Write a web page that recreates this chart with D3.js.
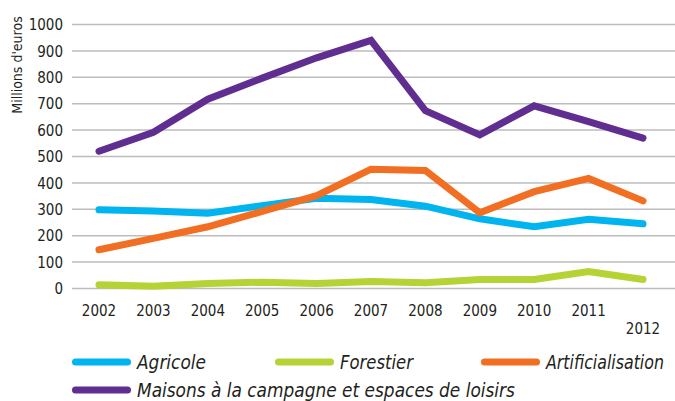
<!DOCTYPE html>
<html>
<head>
<meta charset="utf-8">
<script src="https://cdn.jsdelivr.net/npm/d3@7"></script>
<style>
  body { margin: 0; background: #fff; }
  svg text { font-family: "Liberation Sans Narrow", "DejaVu Sans Condensed", sans-serif; fill: #231f20; }
</style>
</head>
<body>
<svg id="chart" width="675" height="401"></svg>
<script>
// data
var years = ['2002','2003','2004','2005','2006','2007','2008','2009','2010','2011','2012'];
var agricole = [296, 292, 283, 312, 340, 335, 310, 262, 232, 260, 243];
var forestier = [12, 7, 17, 22, 17, 25, 20, 32, 32, 62, 32];
var artificialisation = [145, 188, 232, 290, 350, 450, 445, 285, 365, 415, 330];
var maisons = [518, 590, 715, 795, 872, 938, 672, 580, 690, 630, 568];
var yTicks = [0, 100, 200, 300, 400, 500, 600, 700, 800, 900, 1000];

var series = [
  { name: 'Agricole', values: agricole, color: '#00b5ef' },
  { name: 'Forestier', values: forestier, color: '#b5d334' },
  { name: 'Artificialisation', values: artificialisation, color: '#f26e22' },
  { name: 'Maisons à la campagne et espaces de loisirs', values: maisons, color: '#5f2e90' }
];

var svg = d3.select('#chart');

var x = d3.scalePoint().domain(years).range([99, 643]);
var y = d3.scaleLinear().domain([0, 1000]).range([288, 24]);

// gridlines
var yAxis = d3.axisLeft(y).tickValues(yTicks).tickSize(-603).tickPadding(9).tickFormat(d3.format('d'));
var gy = svg.append('g').attr('transform', 'translate(72,0)').call(yAxis);
gy.select('.domain').remove();
gy.selectAll('.tick line').attr('stroke', '#bcbcbc').attr('stroke-width', 1.5);
gy.selectAll('.tick text').attr('font-size', 15).attr('fill', '#231f20').attr('dy', '0.38em');

// x labels (last one dropped a line, as in the original)
svg.append('g').selectAll('text').data(years).enter().append('text')
  .attr('x', function (d) { return x(d); })
  .attr('y', function (d, i) { return i == years.length - 1 ? 334 : 316; })
  .attr('text-anchor', 'middle')
  .attr('font-size', 15)
  .text(function (d) { return d; });

svg.append('text')
  .attr('transform', 'translate(22,65) rotate(-90)')
  .attr('text-anchor', 'middle')
  .attr('font-size', 14)
  .text("Millions d'euros");

var line = d3.line()
  .x(function (d, i) { return x(years[i]); })
  .y(function (d) { return y(d); });

svg.append('g').selectAll('path').data(series).enter().append('path')
  .attr('d', function (s) { return line(s.values); })
  .attr('fill', 'none')
  .attr('stroke', function (s) { return s.color; })
  .attr('stroke-width', 7)
  .attr('stroke-linecap', 'round')
  .attr('stroke-linejoin', 'miter');

// legend
var legendPos = [[72, 362], [275, 362], [481, 362], [72, 390]];
var legendWidth = [69, 73, 118, 378];
var lg = svg.append('g').selectAll('g').data(series).enter().append('g')
  .attr('transform', function (s, i) { return 'translate(' + legendPos[i][0] + ',' + legendPos[i][1] + ')'; });
lg.append('line')
  .attr('x1', 3.5).attr('x2', 55.5).attr('y1', 0).attr('y2', 0)
  .attr('stroke', function (s) { return s.color; })
  .attr('stroke-width', 7)
  .attr('stroke-linecap', 'round');
// squeeze the text horizontally so it looks condensed like the original
lg.append('text')
  .attr('font-size', 20)
  .attr('font-style', 'italic')
  .text(function (s) { return s.name; })
  .attr('transform', function (s, i) {
    var w = this.getComputedTextLength();
    return 'translate(65,7) scale(' + (legendWidth[i] / w) + ',1)';
  });
</script>
</body>
</html>
